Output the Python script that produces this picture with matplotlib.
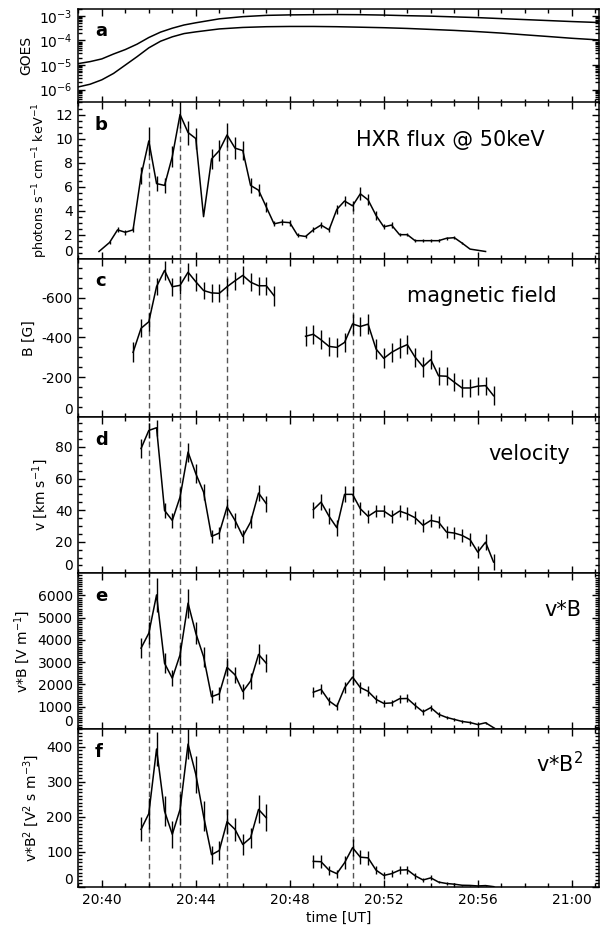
import matplotlib
matplotlib.use("Agg")
import matplotlib.pyplot as plt
from matplotlib.ticker import MultipleLocator, LogLocator, FuncFormatter, NullFormatter
import numpy as np

plt.rcParams.update({
    "font.family": ["DejaVu Sans"],
    "font.size": 10,
    "axes.unicode_minus": False,
    "mathtext.default": "regular",
    "axes.linewidth": 1.1,
})

# ---------------- data (time in minutes after 20:00 UT) ----------------
goes_t = [39.0, 39.5, 40.0, 40.5, 41.0, 41.5, 42.0, 42.5, 43.0, 43.5, 44.0, 45.0, 46.0,
          47.0, 48.0, 49.0, 50.0, 51.0, 52.0, 53.0, 54.0, 55.0, 56.0, 57.0, 58.0, 59.0,
          60.0, 61.17]
goes_long = [1.15e-5, 1.38e-5, 1.78e-5, 2.82e-5, 4.27e-5, 7.08e-5, 1.32e-4, 2.19e-4, 3.16e-4,
             4.27e-4, 5.25e-4, 7.59e-4, 9.33e-4, 1.05e-3, 1.10e-3, 1.12e-3, 1.135e-3, 1.12e-3,
             1.08e-3, 1.02e-3, 9.77e-4, 9.12e-4, 8.51e-4, 7.76e-4, 7.08e-4, 6.46e-4, 5.89e-4,
             5.37e-4]
goes_short = [1.29e-6, 1.66e-6, 2.51e-6, 4.57e-6, 1.0e-5, 2.19e-5, 5.01e-5, 9.33e-5, 1.41e-4,
              1.91e-4, 2.24e-4, 2.95e-4, 3.39e-4, 3.63e-4, 3.72e-4, 3.72e-4, 3.63e-4, 3.47e-4,
              3.31e-4, 3.09e-4, 2.82e-4, 2.57e-4, 2.29e-4, 2.0e-4, 1.70e-4, 1.45e-4, 1.23e-4,
              1.05e-4]

hxr_t = [39.88, 40.33, 40.67, 41.00, 41.33, 41.67, 42.00, 42.33, 42.67, 43.00, 43.33, 43.67,
         44.00, 44.33, 44.67, 45.00, 45.33, 45.67, 46.00, 46.33, 46.67, 47.00, 47.33, 47.67,
         48.00, 48.33, 48.67, 49.00, 49.33, 49.67, 50.00, 50.33, 50.67, 51.00, 51.33, 51.67,
         52.00, 52.33, 52.67, 53.00, 53.33, 53.67, 54.00, 54.33, 54.67, 55.00, 55.33, 55.67,
         56.00, 56.33]
hxr = [0.6, 1.35, 2.4, 2.2, 2.4, 6.9, 9.8, 6.25, 6.1, 8.5, 12.0, 10.5, 10.0, 3.5, 8.3, 9.0,
       10.3, 9.2, 9.0, 6.1, 5.7, 4.3, 2.9, 3.05, 3.0, 1.95, 1.85, 2.4, 2.8, 2.4, 4.1, 4.8, 4.4,
       5.4, 4.9, 3.6, 2.65, 2.8, 2.0, 2.0, 1.5, 1.5, 1.5, 1.5, 1.7, 1.75, 1.3, 0.8, 0.7, 0.6]
hxr_err = [0.0, 0.12, 0.2, 0.2, 0.2, 0.7, 1.2, 0.6, 0.6, 0.9, 1.1, 1.0, 0.9, 0.0, 0.8, 0.9,
           1.0, 0.9, 0.8, 0.6, 0.5, 0.4, 0.2, 0.25, 0.25, 0.15, 0.15, 0.2, 0.25, 0.2, 0.35,
           0.4, 0.4, 0.55, 0.45, 0.35, 0.2, 0.25, 0.15, 0.15, 0.1, 0.1, 0.1, 0.1, 0.12, 0.15,
           0.08, 0.0, 0.0, 0.0]

# magnetic field, two segments
b_t1 = [41.33, 41.67, 42.00, 42.33, 42.67, 43.00, 43.33, 43.67, 44.00, 44.33, 44.67, 45.00,
        45.33, 45.67, 46.00, 46.33, 46.67, 47.00, 47.33]
b_1 = [-325, -446, -479, -656, -737, -655, -662, -728, -680, -636, -624, -622, -655, -685,
       -712, -678, -660, -660, -610]
b_err1 = [50, 45, 45, 45, 48, 45, 45, 45, 45, 45, 45, 45, 45, 45, 45, 45, 45, 45, 50]
b_t2 = [48.67, 49.00, 49.33, 49.67, 50.00, 50.33, 50.67, 51.00, 51.33, 51.67, 52.00, 52.33,
        52.67, 53.00, 53.33, 53.67, 54.00, 54.33, 54.67, 55.00, 55.33, 55.67, 56.00, 56.33,
        56.67]
b_2 = [-406, -416, -388, -355, -350, -375, -468, -455, -467, -342, -295, -325, -347, -364,
       -301, -253, -289, -207, -205, -175, -146, -146, -155, -158, -107]
b_err2 = [50, 48, 48, 48, 48, 48, 52, 48, 50, 50, 50, 48, 48, 48, 48, 50, 48, 45, 45, 45, 45,
          45, 45, 45, 48]

# velocity, v*B, v*B^2 (same time grids)
v_t1 = [41.67, 42.00, 42.33, 42.67, 43.00, 43.33, 43.67, 44.00, 44.33, 44.67, 45.00, 45.33,
        45.67, 46.00, 46.33, 46.67, 47.00]
v_t2 = [49.00, 49.33, 49.67, 50.00, 50.33, 50.67, 51.00, 51.33, 51.67, 52.00, 52.33, 52.67,
        53.00, 53.33, 53.67, 54.00, 54.33, 54.67, 55.00, 55.33, 55.67, 56.00, 56.33, 56.67]
v_1 = [79, 90.5, 92.2, 39.8, 33.5, 48.3, 76.8, 63.1, 51.5, 23.4, 25.5, 42.0, 33.5, 23.4, 32.4,
       50.8, 44.1]
v_err1 = [6, 5, 5, 5, 5, 6, 6, 6, 5, 4, 4, 5, 5, 4, 4, 5, 5]
v_2 = [40.3, 45.1, 36.1, 28.9, 50.0, 50.0, 40.9, 36.1, 39.4, 39.4, 36.1, 39.4, 37.7, 35.2,
       30.4, 33.5, 32.4, 26.1, 25.5, 24.0, 21.3, 13.4, 19.7, 7.1]
v_err2 = [5, 5, 5, 5, 5, 5, 4, 4, 4, 4, 4, 4, 4, 4, 4, 4, 4, 4, 4, 4, 4, 4, 5, 5]

vb_1 = [3630, 4300, 6020, 2950, 2280, 3330, 5650, 4300, 3250, 1450, 1580, 2770, 2430, 1680,
        2150, 3350, 2950]
vb_err1 = [450, 500, 750, 450, 350, 450, 650, 500, 450, 300, 300, 400, 350, 350, 350, 450, 400]
vb_2 = [1650, 1780, 1260, 1010, 1850, 2330, 1860, 1690, 1330, 1150, 1170, 1360, 1370, 1060,
        770, 960, 660, 520, 430, 340, 290, 200, 280, 60]
vb_err2 = [230, 230, 180, 150, 250, 350, 250, 230, 180, 150, 150, 180, 180, 150, 120, 130, 100,
           80, 70, 60, 50, 40, 50, 20]

vbb_1 = [164, 209, 393, 216, 150, 221, 407, 321, 202, 92, 104, 186, 164, 121, 140, 221, 197]
vbb_err1 = [34, 45, 48, 43, 38, 45, 43, 52, 43, 26, 26, 36, 33, 29, 29, 40, 38]
vbb_2 = [73, 72, 48, 38, 69, 112, 85, 83, 48, 33, 38, 48, 49, 32, 20, 26, 14, 10, 8, 5, 4.5,
         3, 4, 1]
vbb_err2 = [18, 18, 13, 11, 18, 25, 20, 20, 12, 9, 9, 11, 11, 8, 6, 7, 4, 3, 2.5, 2, 1.5, 1,
            1.5, 0.5]

peak_t = [42.00, 43.33, 45.33, 50.67]

panel_letters = ["a", "b", "c", "d", "e", "f"]
ylabels = ["GOES", "photons s$^{-1}$ cm$^{-1}$ keV$^{-1}$", "B [G]", "v [km s$^{-1}$]",
           "v*B [V m$^{-1}$]", "v*B$^2$ [V$^2$ s m$^{-3}$]"]
ylabel_size = [10, 9.2, 10, 10, 10, 10]
titles = [None, "HXR flux @ 50keV", "magnetic field", "velocity", "v*B", "v*B$^2$"]
title_x = [None, 0.896, 0.918, 0.944, 0.966, 0.970]

# ---------------- layout ----------------
W, H = 606, 931
L, R = 78.3, 599.3
bounds = [(8.5, 102.5), (102.5, 258.7), (258.7, 417.0), (417.0, 573.3),
          (573.3, 729.0), (729.0, 887.0)]
fig = plt.figure(figsize=(W / 100, H / 100), dpi=100)
axes = [fig.add_axes([L / W, 1 - b / H, (R - L) / W, (b - t) / H]) for t, b in bounds]

DASH = dict(color="#555555", lw=1.0, ls=(0, (4, 2.5)), zorder=1)


def eb(ax, t, y, e):
    ax.errorbar(t, y, yerr=e, fmt="-", color="k", lw=1.1, elinewidth=1.0, capsize=0,
                zorder=3)


# a: GOES
ax = axes[0]
ax.plot(goes_t, goes_long, color="k", lw=1.1)
ax.plot(goes_t, goes_short, color="k", lw=1.1)
ax.set_yscale("log")
ax.set_ylim(3e-7, 2e-3)
ax.yaxis.set_major_locator(LogLocator(base=10, numticks=12))
ax.yaxis.set_minor_locator(LogLocator(base=10, subs=np.arange(2, 10), numticks=12))
ax.yaxis.set_minor_formatter(NullFormatter())

# b: HXR
ax = axes[1]
eb(ax, hxr_t, hxr, hxr_err)
ax.vlines(peak_t, 0, np.interp(peak_t, hxr_t, hxr), **DASH)
ax.set_ylim(0, 13)
ax.yaxis.set_major_locator(MultipleLocator(2))
ax.yaxis.set_minor_locator(MultipleLocator(0.5))

# c: B
ax = axes[2]
eb(ax, b_t1, b_1, b_err1)
eb(ax, b_t2, b_2, b_err2)
ax.set_ylim(0, -796)
ax.yaxis.set_major_locator(MultipleLocator(200))
ax.yaxis.set_minor_locator(MultipleLocator(50))

# d: v
ax = axes[3]
eb(ax, v_t1, v_1, v_err1)
eb(ax, v_t2, v_2, v_err2)
ax.set_ylim(0, 99)
ax.yaxis.set_major_locator(MultipleLocator(20))
ax.yaxis.set_minor_locator(MultipleLocator(5))

# e: v*B
ax = axes[4]
eb(ax, v_t1, vb_1, vb_err1)
eb(ax, v_t2, vb_2, vb_err2)
ax.set_ylim(0, 6990)
ax.yaxis.set_major_locator(MultipleLocator(1000))
ax.yaxis.set_minor_locator(MultipleLocator(100))

# f: v*B^2
ax = axes[5]
eb(ax, v_t1, vbb_1, vbb_err1)
eb(ax, v_t2, vbb_2, vbb_err2)
ax.set_ylim(0, 450)
ax.yaxis.set_major_locator(MultipleLocator(100))
ax.yaxis.set_minor_locator(MultipleLocator(10))

for ax in axes[2:]:
    for pt in peak_t:
        ax.axvline(pt, **DASH)

time_fmt = FuncFormatter(lambda v, p: "%d:%02d" % (20 + int(round(v)) // 60, int(round(v)) % 60))

for i, ax in enumerate(axes):
    ax.set_xlim(39.0, 61.17)
    ax.xaxis.set_major_locator(MultipleLocator(4))
    ax.xaxis.set_minor_locator(MultipleLocator(1))
    ax.tick_params(which="both", direction="in", top=True, right=True, width=1.0,
                   labelsize=10, pad=4)
    ax.tick_params(which="major", length=5)
    ax.tick_params(which="minor", length=2.8)
    ax.set_ylabel(ylabels[i], fontsize=ylabel_size[i], labelpad=4)
    if i < 5:
        ax.tick_params(labelbottom=False)
    ax.annotate(panel_letters[i], xy=(0.032, 1), xycoords="axes fraction",
                xytext=(0, -20), textcoords="offset points", ha="left", va="baseline",
                fontsize=13, fontweight="bold")
    if titles[i]:
        ax.annotate(titles[i], xy=(title_x[i], 1), xycoords="axes fraction",
                    xytext=(0, -31), textcoords="offset points", ha="right",
                    va="baseline", fontsize=15)
    if i > 0:
        locs = ax.yaxis.get_majorticklocs()
        ticks = ax.yaxis.get_major_ticks(len(locs))
        for tk, loc in zip(ticks, locs):
            if abs(loc) < 1e-9:
                tk.label1.set_verticalalignment("bottom")

axes[5].xaxis.set_major_formatter(time_fmt)
axes[5].set_xlabel("time [UT]", fontsize=10, labelpad=3)

fig.savefig("out.png", dpi=100)
